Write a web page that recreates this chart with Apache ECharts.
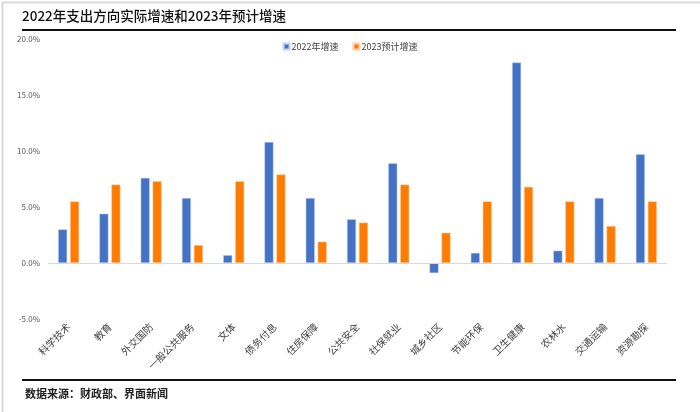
<!DOCTYPE html>
<html><head><meta charset="utf-8">
<script src="https://cdn.jsdelivr.net/npm/echarts@6/dist/echarts.min.js"></script>
<style>html,body{margin:0;padding:0;background:#fff}#c{width:700px;height:412px}</style>
</head><body><div id="c"></div>
<script>
const categories = ['科学技术','教育','外交国防','一般公共服务','文体','债务付息','住房保障','公共安全','社保就业','城乡社区','节能环保','卫生健康','农林水','交通运输','资源勘探'];
const growth2022 = [3.0, 4.4, 7.6, 5.8, 0.7, 10.8, 5.8, 3.9, 8.9, -0.9, 0.9, 17.9, 1.1, 5.8, 9.7];
const growth2023 = [5.5, 7.0, 7.3, 1.6, 7.3, 7.9, 1.9, 3.6, 7.0, 2.7, 5.5, 6.8, 5.5, 3.3, 5.5];
const seriesNames = ['2022年增速', '2023预计增速'];
const titleText = '2022年支出方向实际增速和2023年预计增速';
const sourceText = '数据来源：财政部、界面新闻';

const chart = echarts.init(document.getElementById('c'), null, {renderer: 'canvas'});
const FONT = '"Noto Sans CJK SC", sans-serif';
chart.setOption({
  animation: false,
  backgroundColor: '#fff',
  textStyle: {fontFamily: FONT},
  legend: {
    top: 37, left: 'center',
    itemWidth: 6, itemHeight: 6, itemGap: 14,
    icon: 'rect',
    textStyle: {fontSize: 9, color: '#404040', fontFamily: FONT, padding: [0,0,0,-3]},
    data: seriesNames
  },
  grid: {left: 48, right: 33, top: 39, bottom: 93, containLabel: false},
  xAxis: {
    type: 'category', data: categories,
    axisLine: {show: false}, axisTick: {show: false},
    axisLabel: {rotate: 45, fontSize: 10, color: '#404040', margin: 6, interval: 0, fontFamily: FONT}
  },
  yAxis: {
    type: 'value', min: -5, max: 20, interval: 5,
    axisLine: {show: false}, axisTick: {show: false}, splitLine: {show: false},
    axisLabel: {fontSize: 8, color: '#595959', margin: 8, formatter: v => v.toFixed(1) + '%'}
  },
  series: [
    {name: seriesNames[0], type: 'bar', data: growth2022, barWidth: 9, barGap: '33%',
     itemStyle: {color: '#4472c4', borderColor: '#c5d3ee', borderWidth: 0.5},
     markLine: {silent: true, symbol: 'none', label: {show: false},
       lineStyle: {color: '#d9d9d9', width: 1, type: 'solid'}, data: [{yAxis: 0}]}},
    {name: seriesNames[1], type: 'bar', data: growth2023, barWidth: 9,
     itemStyle: {color: '#ff7c00', borderColor: '#ffd0a8', borderWidth: 0.5}}
  ],
  graphic: [
    {type: 'rect', left: 0, top: 0, z: 100, silent: true,
     shape: {x: 0, y: 0, width: 699, height: 411},
     style: {fill: 'none', stroke: '#d9d9d9', lineWidth: 2}},
    {type: 'text', left: 22, top: 9, style: {text: titleText, fontSize: 13.5, fontWeight: 500, fill: '#111', fontFamily: FONT}},
    {type: 'line', shape: {x1: 22, y1: 30, x2: 676, y2: 30}, style: {stroke: '#111', lineWidth: 2}},
    {type: 'line', shape: {x1: 22, y1: 380, x2: 676, y2: 380}, style: {stroke: '#111', lineWidth: 2}},
    {type: 'text', left: 25, top: 388, style: {text: sourceText, fontSize: 11, fontWeight: 'bold', fill: '#222', fontFamily: FONT}}
  ]
});
</script></body></html>
